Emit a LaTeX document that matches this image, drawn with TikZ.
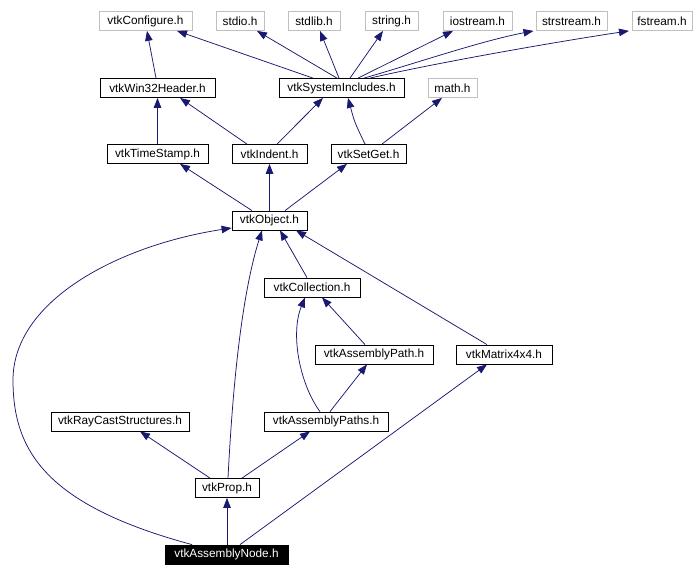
\documentclass[tikz,border=0pt]{standalone}
\usepackage{fontspec}
\setmainfont{Liberation Sans}
\usetikzlibrary{arrows.meta}
\definecolor{edgecol}{RGB}{25,25,112}
\definecolor{graybox}{RGB}{191,191,191}
\tikzset{
  hbox/.style={draw=black, line width=0.8pt, fill=white, inner sep=0pt, minimum height=19pt,
    font=\fontsize{11.8}{12}\selectfont, text=black},
  sysbox/.style={hbox, draw=graybox},
  rootbox/.style={hbox, fill=black, text=white},
  dep/.style={draw=edgecol, line width=0.75pt, -{Triangle[length=10pt,width=7.5pt,fill=edgecol]}}
}
\begin{document}
\begin{tikzpicture}[x=1pt,y=-1pt]
\useasboundingbox (0,0) rectangle (696,576);
% row 1
\node[sysbox, minimum width=93pt] (cfg) at (145.5,21) {vtkConfigure.h};
\node[sysbox, minimum width=48pt] (stdio) at (240,21) {stdio.h};
\node[sysbox, minimum width=52pt] (stdlib) at (314,21) {stdlib.h};
\node[sysbox, minimum width=53pt] (string) at (391.5,21) {string.h};
\node[sysbox, minimum width=69pt] (iostream) at (477.5,21) {iostream.h};
\node[sysbox, minimum width=71pt] (strstream) at (571.5,21) {strstream.h};
\node[sysbox, minimum width=60pt] (fstream) at (662,21) {fstream.h};
% row 2
\node[hbox, minimum width=115pt] (win32) at (157.5,88) {vtkWin32Header.h};
\node[hbox, minimum width=125pt] (sysinc) at (341.5,88) {vtkSystemIncludes.h};
\node[sysbox, minimum width=49pt] (math) at (452.5,88) {math.h};
% row 3
\node[hbox, minimum width=101pt] (tstamp) at (157.5,154) {vtkTimeStamp.h};
\node[hbox, minimum width=75pt] (indent) at (269.5,154) {vtkIndent.h};
\node[hbox, minimum width=75pt] (setget) at (368.5,154) {vtkSetGet.h};
% row 4
\node[hbox, minimum width=75pt] (object) at (269.5,220.5) {vtkObject.h};
% row 5
\node[hbox, minimum width=96pt] (coll) at (312,287.5) {vtkCollection.h};
% row 6
\node[hbox, minimum width=118pt] (apath) at (374,354.5) {vtkAssemblyPath.h};
\node[hbox, minimum width=96pt] (matrix) at (504,354.5) {vtkMatrix4x4.h};
% row 7
\node[hbox, minimum width=138pt] (raycast) at (120,421.5) {vtkRayCastStructures.h};
\node[hbox, minimum width=124pt] (apaths) at (326,421.5) {vtkAssemblyPaths.h};
% row 8
\node[hbox, minimum width=64pt] (prop) at (227,488) {vtkProp.h};
% row 9
\node[rootbox, minimum width=123pt] (anode) at (226.5,554.5) {vtkAssemblyNode.h};

% edges to row 1
\draw[dep] ([xshift=-1.5pt]win32.north) -- ([xshift=1.5pt]cfg.south);
\draw[dep] ([xshift=-28.5pt]sysinc.north) -- ([xshift=31.5pt]cfg.south);
\draw[dep] ([xshift=-4.5pt]sysinc.north) -- ([xshift=17pt]stdio.south);
\draw[dep] ([xshift=-2.5pt]sysinc.north) -- ([xshift=6pt]stdlib.south);
\draw[dep] ([xshift=8.5pt]sysinc.north) -- ([xshift=-8.5pt]string.south);
\draw[dep] ([xshift=16.5pt]sysinc.north) -- ([xshift=-24.5pt]iostream.south);
\draw[dep] ([xshift=22.5pt]sysinc.north) .. controls ([xshift=78pt,yshift=16pt]sysinc.north) and ([xshift=-90pt,yshift=-10pt]strstream.south) .. ([xshift=-38pt]strstream.south);
\draw[dep] ([xshift=28.5pt]sysinc.north) .. controls ([xshift=98pt,yshift=16pt]sysinc.north) and ([xshift=-100pt,yshift=-10pt]fstream.south) .. ([xshift=-33pt]fstream.south);
% edges to row 2
\draw[dep] (tstamp.north) -- (win32.south);
\draw[dep] ([xshift=-22.5pt]indent.north) -- ([xshift=22.5pt]win32.south);
\draw[dep] ([xshift=7.5pt]indent.north) -- ([xshift=-18.5pt]sysinc.south);
\draw[dep] ([xshift=-3.5pt]setget.north) .. controls ([xshift=-14pt,yshift=22pt]setget.north) .. ([xshift=6.5pt]sysinc.south);
\draw[dep] ([xshift=13.5pt]setget.north) -- ([xshift=-10.5pt]math.south);
% edges to row 3
\draw[dep] ([xshift=-17.5pt]object.north) -- ([xshift=22.5pt]tstamp.south);
\draw[dep] (object.north) -- (indent.south);
\draw[dep] ([xshift=15.5pt]object.north) -- ([xshift=-21.5pt]setget.south);
% edges to vtkObject
\draw[dep] ([xshift=-5pt]coll.north) -- ([xshift=10.5pt]object.south);
\draw[dep] ([xshift=-17pt]matrix.north) -- ([xshift=26.5pt]object.south);
\draw[dep] ([xshift=1pt]prop.north) .. controls ([xshift=5pt,yshift=78pt]prop.north) and ([xshift=-29.5pt,yshift=-70pt]object.south) .. ([xshift=-7.5pt]object.south);
\draw[dep] ([xshift=-34.5pt]anode.north) .. controls (45,505) and (13,450) .. (13,380)
  .. controls (13,300) and (120,245) .. ([yshift=-7.5pt]object.west);
% edges to vtkCollection
\draw[dep] ([xshift=-9pt]apath.north) -- ([xshift=10pt]coll.south);
\draw[dep] ([xshift=-6pt]apaths.north) .. controls ([xshift=-26pt,yshift=27pt]apaths.north) and ([xshift=-22pt,yshift=-37pt]coll.south) .. ([xshift=-7pt]coll.south);
% edges to row 6/7
\draw[dep] ([xshift=4pt]apaths.north) -- ([xshift=-7pt]apath.south);
\draw[dep] ([xshift=-17pt]prop.north) -- ([xshift=20pt]raycast.south);
\draw[dep] ([xshift=15pt]prop.north) -- ([xshift=-16pt]apaths.south);
% edges from vtkAssemblyNode
\draw[dep] ([xshift=0.5pt]anode.north) -- (prop.south);
\draw[dep] ([xshift=13.5pt]anode.north) -- ([xshift=-17pt]matrix.south);
\end{tikzpicture}
\end{document}
